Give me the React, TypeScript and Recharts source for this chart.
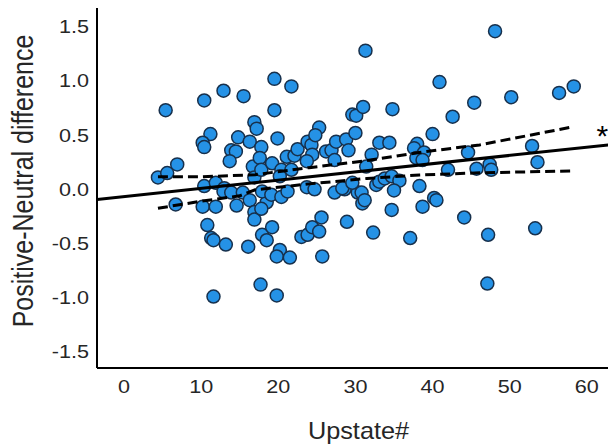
import React from 'react';
import { ScatterChart, Scatter, XAxis, YAxis, ReferenceDot } from 'recharts';

// Upstate# (x) and Positive-Neutral difference (y), one entry per cell
const upstateX = [
  4.4, 5.6, 6.9, 5.4, 10.4, 12.9, 15.5, 11.2, 10.2, 10.4, 14.8, 16.3, 13.9, 14.5, 13.7, 10.4,
  11.9, 13.0, 12.9, 13.9, 15.4, 16.3, 6.7, 10.2, 11.9, 14.6, 10.8, 11.3, 11.6, 13.2, 16.1, 11.6,
  16.7, 16.9, 17.2, 17.8, 17.6, 16.9, 16.9, 16.9, 17.9, 18.5, 18.5, 17.8, 17.8, 17.7, 19.8,
  19.5, 21.7, 19.5, 19.9, 19.2, 21.1, 22.1, 22.5, 20.4, 21.7, 17.9, 19.1, 20.4, 21.2, 19.2,
  20.2, 19.8, 21.5, 20.2,
  23.8, 24.3, 25.3, 24.8, 24.4, 23.7, 26.2, 26.9, 27.5, 27.3, 23.7, 24.7, 27.3, 23.0, 23.8,
  24.4, 25.3, 25.6, 25.7, 28.6,
  28.8, 29.1, 30.0, 29.6, 30.1, 31.0, 31.3, 28.9, 30.3, 30.8, 30.9, 28.3, 29.6, 32.3, 32.1,
  31.4, 32.7, 33.1, 31.2, 33.1, 34.4,
  33.8, 34.7, 35.7, 35.0, 34.8, 34.7, 37.1, 38.3, 38.0, 37.6, 38.9, 37.9, 38.7, 40.0, 40.9,
  40.2, 40.5, 38.7,
  42.6, 45.4, 44.1, 42.0, 44.6, 45.7, 47.4, 47.6, 47.2, 47.1, 48.1, 50.2, 52.9, 53.6, 53.3,
  56.4, 58.3,
];
const diffY = [
  0.11, 0.15, 0.23, 0.73, 0.82, 0.91, 0.86, 0.51, 0.43, 0.39, 0.48, 0.44, 0.36, 0.35, 0.26, 0.03,
  0.06, 0.01, -0.02, -0.03, -0.03, -0.10, -0.14, -0.16, -0.16, -0.15, -0.33, -0.45, -0.47, -0.51, -0.53, -0.99,
  0.21, 0.62, 0.56, 0.39, 0.29, 0.11, -0.21, -0.28, -0.42, -0.47, -0.12, 0.18, -0.18, -0.88, -0.98,
  1.02, 0.95, 0.73, 0.47, 0.24, 0.30, 0.31, 0.37, 0.18, 0.18, -0.02, -0.05, -0.07, -0.02, -0.35,
  -0.56, -0.62, -0.63, 0.12,
  0.44, 0.41, 0.57, 0.50, 0.32, 0.26, 0.35, 0.36, 0.44, 0.27, 0.02, 0.00, -0.03, -0.44, -0.42,
  -0.35, -0.39, -0.26, -0.62, 0.00,
  0.46, 0.36, 0.52, 0.69, 0.68, 0.76, 1.28, -0.30, -0.03, -0.03, -0.13, 0.01, 0.06, -0.40, 0.32,
  0.21, 0.04, 0.07, -0.10, 0.43, 0.43,
  0.10, 0.12, 0.08, -0.01, 0.74, -0.19, -0.45, 0.03, 0.42, 0.38, 0.34, 0.29, 0.27, 0.51, 0.99,
  -0.08, -0.10, -0.16,
  0.67, 0.80, -0.26, 0.18, 0.34, 0.19, 0.23, 0.18, -0.42, -0.87, 1.46, 0.85, 0.40, 0.25, -0.36,
  0.89, 0.95,
];

// fitted line and its confidence band
const fitX = [-3.5, 63];
const fitY = [-0.095, 0.412];
const upperX = [4.4, 10, 17, 24, 31.5, 38.3, 46.1, 58.1];
const upperY = [0.115, 0.115, 0.135, 0.2, 0.265, 0.34, 0.41, 0.575];
const lowerX = [4.4, 10, 15, 17, 24, 31.5, 38.3, 46.1, 58.4];
const lowerY = [-0.175, -0.11, -0.06, -0.005, 0.05, 0.1, 0.132, 0.152, 0.17];

const xTicks = [0, 10, 20, 30, 40, 50, 60];
const yTicks = [-1.5, -1.0, -0.5, 0.0, 0.5, 1.0, 1.5];

const points = upstateX.map((x, i) => ({ x, y: diffY[i] }));
const fit = fitX.map((x, i) => ({ x, y: fitY[i] }));
const upper = upperX.map((x, i) => ({ x, y: upperY[i] }));
const lower = lowerX.map((x, i) => ({ x, y: lowerY[i] }));

const FONT = 'Liberation Sans, Arial, sans-serif';
const TEXT = '#262626';

const XTick = (props: any) => {
  const { x, y, payload } = props;
  return (
    <text transform={`translate(${x},${y}) scale(1.2,1)`} textAnchor="middle" dy="0.71em"
      fontSize={18} fontFamily={FONT} fill={TEXT}>
      {payload.value}
    </text>
  );
};

const YTick = (props: any) => {
  const { x, y, payload } = props;
  return (
    <text transform={`translate(${x},${y}) scale(1.2,1)`} textAnchor="end" dy="0.355em"
      fontSize={18} fontFamily={FONT} fill={TEXT}>
      {Number(payload.value).toFixed(1)}
    </text>
  );
};

const Dot = (props: any) => (
  <circle cx={props.cx} cy={props.cy} r={6.5} fill="#2592e6" stroke="#17304c" strokeWidth={1.5} />
);

const NoDot = () => <g />;

export default function App() {
  return (
    <div style={{ position: 'absolute', left: 0, top: 0, width: 608, height: 446, overflow: 'hidden', background: '#fff' }}>
      <ScatterChart width={620} height={446} margin={{ top: 8, right: 10, bottom: 0, left: 0 }}>
        <XAxis
          type="number"
          dataKey="x"
          domain={[-3.5, 63]}
          ticks={xTicks}
          allowDataOverflow
          height={78}
          tickLine={false}
          tickSize={0}
          tickMargin={12}
          axisLine={{ stroke: '#000', strokeWidth: 2 }}
          tick={<XTick />}
          label={{
            content: (p: any) => {
              const vb = p.viewBox;
              return (
                <text transform={`translate(${vb.x + vb.width / 2 + 5},${vb.y + 71}) scale(1.1,1)`}
                  textAnchor="middle" fontSize={23} fontFamily={FONT} fill={TEXT}>
                  Upstate#
                </text>
              );
            },
          }}
        />
        <YAxis
          type="number"
          dataKey="y"
          domain={[-1.65, 1.674]}
          ticks={yTicks}
          allowDataOverflow
          width={97}
          tickLine={false}
          tickSize={0}
          tickMargin={8}
          axisLine={{ stroke: '#000', strokeWidth: 2 }}
          tick={<YTick />}
          label={{
            content: (p: any) => {
              const vb = p.viewBox;
              return (
                <text transform={`translate(33,${vb.y + vb.height / 2 - 7}) rotate(-90) scale(1,1.2)`}
                  textAnchor="middle" fontSize={25} fontFamily={FONT} fill={TEXT}>
                  Positive-Neutral difference
                </text>
              );
            },
          }}
        />
        <Scatter data={points} shape={<Dot />} isAnimationActive={false} />
        <Scatter data={upper} shape={<NoDot />} line={{ stroke: '#000', strokeWidth: 3, strokeDasharray: '10 5' }} isAnimationActive={false} />
        <Scatter data={lower} shape={<NoDot />} line={{ stroke: '#000', strokeWidth: 3, strokeDasharray: '10 5' }} isAnimationActive={false} />
        <Scatter data={fit} shape={<NoDot />} line={{ stroke: '#000', strokeWidth: 3 }} isAnimationActive={false} />
        <ReferenceDot
          x={62}
          y={0.4}
          r={0}
          ifOverflow="visible"
          shape={(p: any) => (
            <text x={p.cx} y={p.cy} textAnchor="middle" fontSize={30} fontFamily={FONT} fill="#000">*</text>
          )}
        />
      </ScatterChart>
    </div>
  );
}
